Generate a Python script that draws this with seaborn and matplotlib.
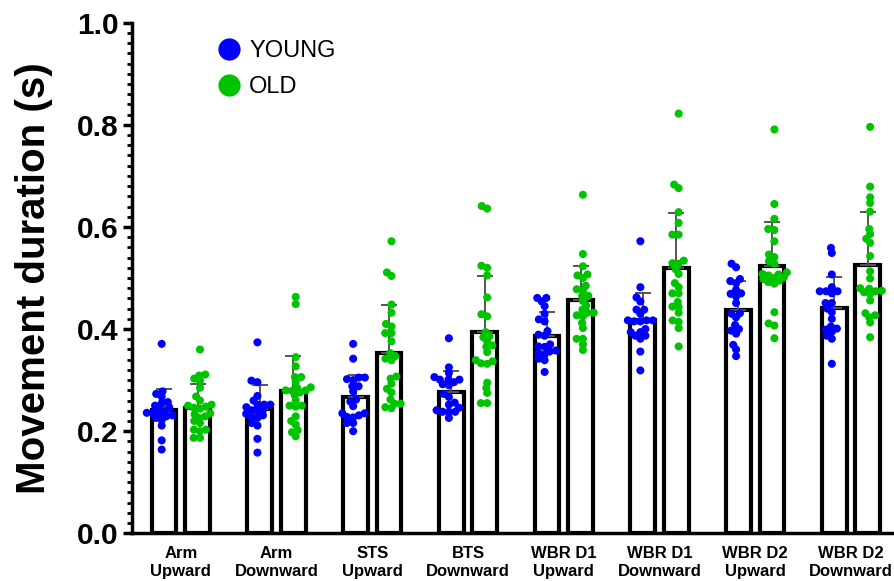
import numpy as np
import pandas as pd
import seaborn as sns
import matplotlib.pyplot as plt
from matplotlib.collections import PathCollection
from matplotlib.ticker import MultipleLocator, FormatStrFormatter

tasks = ["Arm\nUpward", "Arm\nDownward", "STS\nUpward", "BTS\nDownward",
         "WBR D1\nUpward", "WBR D1\nDownward", "WBR D2\nUpward", "WBR D2\nDownward"]
groups = ["YOUNG", "OLD"]

# bar heights (mean) and SD
young_mean = [0.241, 0.244, 0.266, 0.277, 0.386, 0.417, 0.438, 0.442]
young_sd = [0.042, 0.046, 0.045, 0.041, 0.047, 0.053, 0.057, 0.059]
old_mean = [0.246, 0.278, 0.354, 0.394, 0.456, 0.519, 0.523, 0.526]
old_sd = [0.047, 0.070, 0.093, 0.109, 0.067, 0.108, 0.086, 0.104]

# individual subjects (s)
arm_up_young = [0.371, 0.278, 0.273, 0.268, 0.257, 0.255, 0.250, 0.247, 0.243, 0.239,
                0.236, 0.235, 0.233, 0.231, 0.229, 0.226, 0.222, 0.211, 0.182, 0.164]
arm_up_old = [0.360, 0.311, 0.309, 0.303, 0.299, 0.285, 0.268, 0.260, 0.252, 0.250, 0.248, 0.246,
              0.244, 0.235, 0.233, 0.229, 0.226, 0.220, 0.216, 0.203, 0.203, 0.200, 0.187, 0.187]
arm_down_young = [0.374, 0.299, 0.296, 0.269, 0.260, 0.252, 0.252, 0.252, 0.247, 0.242,
                  0.241, 0.238, 0.234, 0.231, 0.228, 0.226, 0.216, 0.211, 0.185, 0.158]
arm_down_old = [0.463, 0.449, 0.345, 0.327, 0.306, 0.306, 0.296, 0.286, 0.285, 0.280, 0.280, 0.279,
                0.276, 0.270, 0.260, 0.250, 0.250, 0.248, 0.229, 0.220, 0.213, 0.202, 0.198, 0.190]
sts_up_young = [0.371, 0.342, 0.305, 0.305, 0.302, 0.300, 0.288, 0.288, 0.278, 0.262,
                0.258, 0.249, 0.235, 0.235, 0.231, 0.228, 0.227, 0.216, 0.216, 0.200]
sts_up_old = [0.572, 0.511, 0.504, 0.448, 0.432, 0.410, 0.405, 0.392, 0.392, 0.376, 0.353, 0.347,
              0.342, 0.339, 0.307, 0.303, 0.293, 0.283, 0.276, 0.262, 0.254, 0.254, 0.247, 0.245]
bts_down_young = [0.382, 0.325, 0.314, 0.306, 0.301, 0.301, 0.301, 0.296, 0.292, 0.290,
                  0.273, 0.267, 0.256, 0.252, 0.246, 0.241, 0.238, 0.238, 0.238, 0.226]
bts_down_old = [0.641, 0.636, 0.524, 0.520, 0.505, 0.462, 0.429, 0.425, 0.394, 0.386, 0.384, 0.376,
                0.368, 0.365, 0.355, 0.339, 0.337, 0.333, 0.332, 0.295, 0.285, 0.275, 0.255, 0.255]
wbr1_up_young = [0.461, 0.461, 0.454, 0.445, 0.430, 0.419, 0.415, 0.396, 0.389, 0.387,
                 0.370, 0.366, 0.365, 0.358, 0.356, 0.353, 0.350, 0.342, 0.339, 0.316]
wbr1_up_old = [0.663, 0.547, 0.523, 0.507, 0.505, 0.500, 0.485, 0.478, 0.476, 0.465, 0.465, 0.455,
               0.446, 0.438, 0.432, 0.432, 0.427, 0.425, 0.412, 0.402, 0.381, 0.381, 0.370, 0.359]
wbr1_down_young = [0.572, 0.482, 0.462, 0.454, 0.438, 0.438, 0.430, 0.417, 0.417, 0.417,
                   0.415, 0.415, 0.400, 0.394, 0.394, 0.387, 0.387, 0.381, 0.356, 0.319]
wbr1_down_old = [0.822, 0.683, 0.676, 0.629, 0.608, 0.585, 0.585, 0.534, 0.529, 0.528, 0.517, 0.508,
                 0.490, 0.482, 0.470, 0.470, 0.453, 0.444, 0.443, 0.432, 0.417, 0.414, 0.402, 0.366]
wbr2_up_young = [0.528, 0.521, 0.498, 0.494, 0.490, 0.477, 0.470, 0.469, 0.464, 0.451,
                 0.431, 0.430, 0.423, 0.408, 0.400, 0.397, 0.391, 0.369, 0.360, 0.347]
wbr2_up_old = [0.791, 0.645, 0.616, 0.596, 0.594, 0.572, 0.546, 0.541, 0.533, 0.528, 0.511, 0.508,
               0.507, 0.505, 0.502, 0.500, 0.498, 0.495, 0.492, 0.489, 0.433, 0.411, 0.407, 0.382]
wbr2_down_young = [0.559, 0.549, 0.507, 0.482, 0.474, 0.474, 0.474, 0.470, 0.451, 0.451,
                   0.440, 0.433, 0.420, 0.405, 0.401, 0.399, 0.395, 0.387, 0.381, 0.332]
wbr2_down_old = [0.796, 0.679, 0.658, 0.647, 0.630, 0.596, 0.586, 0.577, 0.569, 0.543, 0.513, 0.499,
                 0.480, 0.479, 0.475, 0.474, 0.472, 0.469, 0.456, 0.431, 0.427, 0.423, 0.413, 0.384]

young_pts = [arm_up_young, arm_down_young, sts_up_young, bts_down_young,
             wbr1_up_young, wbr1_down_young, wbr2_up_young, wbr2_down_young]
old_pts = [arm_up_old, arm_down_old, sts_up_old, bts_down_old,
           wbr1_up_old, wbr1_down_old, wbr2_up_old, wbr2_down_old]

rows = []
for task, yv, ov in zip(tasks, young_pts, old_pts):
    rows += [(task, "YOUNG", v) for v in yv]
    rows += [(task, "OLD", v) for v in ov]
pts = pd.DataFrame(rows, columns=["task", "group", "duration"])

bars = pd.DataFrame({"task": tasks * 2,
                     "group": ["YOUNG"] * 8 + ["OLD"] * 8,
                     "duration": young_mean + old_mean})

sns.set_style("ticks")
plt.rcParams["font.family"] = ["Liberation Sans", "DejaVu Sans"]
plt.rcParams.update({"text.color": "black", "axes.labelcolor": "black",
                     "xtick.color": "black", "ytick.color": "black",
                     "axes.edgecolor": "black"})

fig = plt.figure(figsize=(8.95, 5.81), dpi=100)
ax = fig.add_axes([0.1475, 0.0821, 0.8525, 0.8788])

palette = {"YOUNG": "#0000FF", "OLD": "#00C400"}

sns.barplot(data=bars, x="task", y="duration", hue="group", order=tasks, hue_order=groups,
            palette={"YOUNG": "white", "OLD": "white"}, saturation=1, width=0.70, gap=0.26,
            edgecolor="black", linewidth=3.0, errorbar=None, legend=False, ax=ax)

# SD drawn upward only, like the original
rects = sorted(ax.patches, key=lambda p: p.get_x())
centers = [r.get_x() + r.get_width() / 2 for r in rects]
heights = [r.get_height() for r in rects]
sds = [s for pair in zip(young_sd, old_sd) for s in pair]
eb = ax.errorbar(centers, heights, yerr=[np.zeros(len(sds)), sds], fmt="none",
                 ecolor="#555555", elinewidth=1.4, capsize=5.6, capthick=1.4, zorder=2)
for cap in eb[1]:
    cap.set_color("black")

sns.swarmplot(data=pts, x="task", y="duration", hue="group", order=tasks, hue_order=groups,
              dodge=True, palette=palette, size=4.3, linewidth=0, zorder=3, ax=ax)

# lay out the swarm with small dots, then freeze it and enlarge the dots (overlap like the original)
fig.canvas.draw()
for coll in ax.collections:
    if isinstance(coll, PathCollection):
        if "draw" in vars(coll):
            del coll.draw
        coll.set_sizes([5.8 ** 2])

old_leg = ax.get_legend()
handles = old_leg.legend_handles
labels = [t.get_text() for t in old_leg.get_texts()]
leg = ax.legend(handles, labels, loc="upper left", bbox_to_anchor=(0.112, 0.966),
                frameon=False, fontsize=17, handlelength=1.0, handletextpad=0.35,
                labelspacing=0.58, borderpad=0, borderaxespad=0)
for h in leg.legend_handles:
    if hasattr(h, "set_markersize"):
        h.set_markersize(16)
    else:
        h.set_sizes([16 ** 2])

ax.set_ylim(0, 1.0)
ax.set_xlim(-0.51, 7.46)
ax.yaxis.set_major_locator(MultipleLocator(0.2))
ax.yaxis.set_minor_locator(MultipleLocator(0.02))
ax.yaxis.set_major_formatter(FormatStrFormatter("%.1f"))

ax.set_ylabel("Movement duration (s)", fontsize=29, fontweight="bold", labelpad=17)
ax.set_xlabel("")

ax.tick_params(axis="y", which="major", length=6.5, width=2.5, labelsize=21.5, pad=3)
ax.tick_params(axis="y", which="minor", length=3.5, width=2.0)
ax.tick_params(axis="x", length=0, pad=9.5)
for lab in ax.get_yticklabels():
    lab.set_fontweight("bold")
for lab in ax.get_xticklabels():
    lab.set_fontweight("bold")
    lab.set_fontsize(12)
    lab.set_linespacing(1.2)

sns.despine(ax=ax)
ax.spines["left"].set_linewidth(2.5)
ax.spines["bottom"].set_linewidth(2.5)

fig.savefig("out.png", dpi=100)
